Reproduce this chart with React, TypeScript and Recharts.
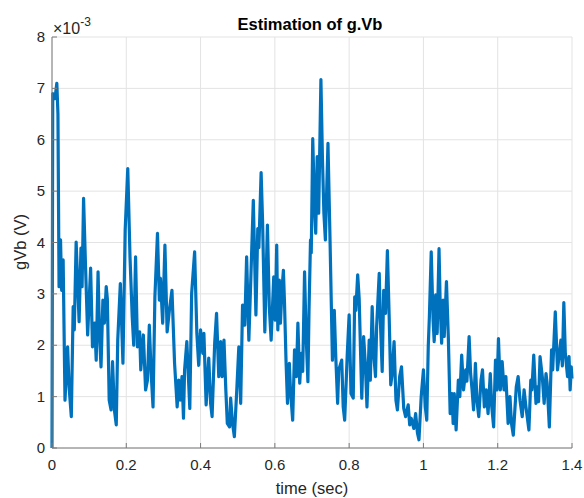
import React from "react";
import { CartesianGrid, Line, LineChart, XAxis, YAxis } from "recharts";

// time axis (sec) and estimated g.Vb, in units of 1e-3 V
const timeSec = [
  0, 0.002, 0.008, 0.013, 0.016, 0.019, 0.023, 0.026, 0.03, 0.035, 0.042, 0.046, 0.052, 0.057, 0.06, 0.065,
  0.073, 0.078, 0.081, 0.085, 0.09, 0.096, 0.104, 0.109, 0.115, 0.119, 0.124, 0.128, 0.132, 0.137, 0.141,
  0.146, 0.149, 0.154, 0.159, 0.163, 0.168, 0.173, 0.177, 0.184, 0.191, 0.197, 0.204, 0.21, 0.216, 0.22,
  0.225, 0.23, 0.236, 0.239, 0.246, 0.252, 0.257, 0.262, 0.267, 0.272, 0.277, 0.284, 0.289, 0.292, 0.298,
  0.304, 0.31, 0.316, 0.323, 0.33, 0.337, 0.341, 0.345, 0.35, 0.354, 0.357, 0.363, 0.371, 0.376, 0.384,
  0.39, 0.395, 0.4, 0.406, 0.409, 0.415, 0.422, 0.427, 0.431, 0.438, 0.443, 0.449, 0.454, 0.458, 0.463,
  0.468, 0.472, 0.478, 0.481, 0.486, 0.491, 0.497, 0.503, 0.508, 0.513, 0.519, 0.524, 0.53, 0.536, 0.542,
  0.549, 0.554, 0.557, 0.563, 0.567, 0.573, 0.58, 0.585, 0.59, 0.597, 0.601, 0.605, 0.608, 0.612, 0.615,
  0.619, 0.623, 0.626, 0.63, 0.634, 0.639, 0.642, 0.648, 0.653, 0.658, 0.662, 0.667, 0.671, 0.675, 0.68,
  0.684, 0.689, 0.692, 0.696, 0.698, 0.702, 0.707, 0.71, 0.714, 0.718, 0.724, 0.728, 0.732, 0.736, 0.743,
  0.748, 0.755, 0.76, 0.764, 0.769, 0.772, 0.78, 0.784, 0.788, 0.795, 0.8, 0.805, 0.811, 0.815, 0.818,
  0.823, 0.827, 0.834, 0.839, 0.844, 0.848, 0.854, 0.857, 0.862, 0.866, 0.871, 0.874, 0.881, 0.884, 0.889,
  0.893, 0.898, 0.903, 0.908, 0.912, 0.915, 0.921, 0.926, 0.93, 0.936, 0.941, 0.947, 0.952, 0.959, 0.963,
  0.967, 0.974, 0.979, 0.984, 0.988, 0.994, 1.0, 1.005, 1.009, 1.013, 1.016, 1.021, 1.026, 1.029, 1.033,
  1.037, 1.042, 1.045, 1.049, 1.053, 1.056, 1.062, 1.067, 1.072, 1.077, 1.08, 1.083, 1.088, 1.094, 1.098,
  1.103, 1.108, 1.114, 1.117, 1.123, 1.127, 1.131, 1.135, 1.14, 1.144, 1.149, 1.155, 1.159, 1.164, 1.169,
  1.174, 1.18, 1.184, 1.189, 1.194, 1.198, 1.202, 1.207, 1.212, 1.217, 1.222, 1.228, 1.233, 1.237, 1.242,
  1.25, 1.255, 1.26, 1.266, 1.271, 1.276, 1.284, 1.289, 1.292, 1.297, 1.303, 1.307, 1.31, 1.314, 1.32,
  1.325, 1.33, 1.333, 1.339, 1.345, 1.348, 1.355, 1.361, 1.366, 1.37, 1.374, 1.378, 1.382, 1.388, 1.392,
  1.395, 1.398, 1.4,
];

const gVbE3 = [
  0, 6.9, 6.8, 7.1, 6.5, 3.14, 4.05, 3.07, 3.66, 0.93, 1.97, 1.19, 0.61, 2.75, 2.3, 4.01,
  2.46, 3.89, 3.14, 4.86, 3.6, 2.2, 3.5, 1.97, 2.43, 1.71, 3.43, 2.17, 1.58, 2.88, 2.43,
  3.14, 2.9, 0.93, 0.74, 1.68, 0.74, 0.45, 2.1, 3.2, 1.65, 4.24, 5.44, 3.72, 2.55, 2.0,
  3.72, 1.97, 2.26, 1.52, 2.2, 1.13, 1.32, 2.39, 1.45, 0.8, 2.94, 4.18, 2.88, 3.3, 2.43,
  3.95, 2.26, 2.68, 3.07, 1.65, 0.8, 1.32, 0.93, 1.39, 0.58, 1.52, 2.07, 0.77, 3.01, 3.82,
  2.23, 1.61, 2.3, 1.84, 2.23, 0.84, 1.75, 0.87, 0.61, 2.04, 2.62, 1.39, 2.07, 1.39, 2.1,
  1.13, 0.48, 0.41, 0.97, 0.48, 0.22, 1.06, 1.97, 0.87, 2.78, 2.39, 3.72, 2.1, 3.46, 4.82,
  2.59, 4.27, 3.9, 5.36, 4.4, 2.26, 4.34, 2.75, 2.1, 3.33, 2.49, 3.95, 2.3, 3.27, 2.43,
  3.07, 3.46, 2.82, 1.71, 0.87, 1.65, 1.13, 0.54, 1.91, 1.39, 2.43, 1.26, 1.84, 1.49, 3.43,
  2.23, 1.29, 2.68, 4.05, 3.8, 6.02, 4.63, 4.18, 5.67, 4.57, 7.17, 5.67, 4.57, 4.05, 5.93,
  4.24, 1.71, 2.68, 1.78, 0.87, 1.52, 1.71, 0.8, 0.54, 1.84, 2.59, 1.06, 0.97, 2.94, 2.68,
  3.37, 2.91, 0.97, 2.17, 1.58, 0.8, 2.1, 1.32, 2.75, 1.84, 1.39, 2.36, 3.4, 2.49, 1.49,
  3.07, 2.62, 3.84, 2.49, 1.23, 1.39, 2.07, 0.93, 0.74, 1.39, 1.58, 0.77, 0.61, 0.84, 0.45,
  0.58, 0.38, 0.67, 0.29, 0.16, 1.0, 1.52, 0.8, 0.54, 1.97, 2.55, 3.82, 2.49, 2.07, 2.98,
  2.23, 3.88, 2.82, 2.04, 2.88, 2.17, 3.24, 2.17, 0.67, 1.06, 0.48, 1.06, 0.35, 1.32, 1.0,
  1.81, 1.13, 1.52, 1.3, 2.17, 1.45, 1.13, 0.74, 1.65, 0.93, 0.61, 1.32, 1.52, 0.8, 1.13,
  0.67, 1.45, 0.8, 0.41, 1.71, 1.13, 2.13, 1.13, 1.68, 1.13, 1.39, 0.48, 1.0, 0.48, 0.25,
  1.19, 1.39, 0.93, 0.61, 1.13, 0.8, 0.35, 1.32, 1.13, 1.81, 0.87, 1.19, 0.9, 1.78, 1.39,
  0.87, 1.45, 1.26, 0.41, 1.91, 1.52, 2.65, 1.52, 1.84, 2.1, 1.6, 2.83, 1.84, 1.39, 1.78,
  1.13, 1.58, 1.35,
];

const xTicks = [0, 0.2, 0.4, 0.6, 0.8, 1, 1.2, 1.4];
const yTicks = [0, 1, 2, 3, 4, 5, 6, 7, 8];

const FONT = '"Liberation Sans", Arial, Helvetica, sans-serif';
const TEXT = "#262626";
const AXIS = "#7a7a7a";

const rows = timeSec.map((t, i) => ({ t, v: gVbE3[i] }));

function BottomTick({ x, y, payload }: any) {
  return (
    <g>
      <line x1={x} x2={x} y1={y} y2={y - 5} stroke={AXIS} />
      <text x={x} y={y + 22} textAnchor="middle" fontSize={15} fill={TEXT} fontFamily={FONT}>
        {String(payload.value)}
      </text>
    </g>
  );
}

function TopTick({ x, y }: any) {
  return <line x1={x} x2={x} y1={y} y2={y + 5} stroke={AXIS} />;
}

function LeftTick({ x, y, payload }: any) {
  return (
    <g>
      <line x1={x} x2={x + 5} y1={y} y2={y} stroke={AXIS} />
      <text x={x - 7} y={y + 5} textAnchor="end" fontSize={15} fill={TEXT} fontFamily={FONT}>
        {String(payload.value)}
      </text>
    </g>
  );
}

function RightTick({ x, y }: any) {
  return <line x1={x} x2={x - 5} y1={y} y2={y} stroke={AXIS} />;
}

export default function App() {
  return (
    <div style={{ position: "absolute", left: 0, top: 0, width: 584, height: 498, background: "#fff" }}>
      <LineChart width={584} height={498} data={rows} margin={{ top: 37, right: 12, bottom: 0, left: 0 }}>
        <CartesianGrid xAxisId="b" yAxisId="l" stroke="#e3e3e3" />
        <XAxis
          xAxisId="b"
          dataKey="t"
          type="number"
          domain={[0, 1.4]}
          ticks={xTicks}
          interval={0}
          height={50}
          tickSize={0}
          tickMargin={0}
          tickLine={false}
          tick={<BottomTick />}
          axisLine={{ stroke: AXIS }}
        />
        <XAxis
          xAxisId="t"
          orientation="top"
          type="number"
          domain={[0, 1.4]}
          ticks={xTicks}
          interval={0}
          height={0}
          tickSize={0}
          tickMargin={0}
          tickLine={false}
          tick={<TopTick />}
          axisLine={{ stroke: AXIS }}
        />
        <YAxis
          yAxisId="l"
          type="number"
          domain={[0, 8]}
          ticks={yTicks}
          interval={0}
          width={52}
          tickSize={0}
          tickMargin={0}
          tickLine={false}
          tick={<LeftTick />}
          axisLine={{ stroke: AXIS }}
        />
        <YAxis
          yAxisId="r"
          orientation="right"
          type="number"
          domain={[0, 8]}
          ticks={yTicks}
          interval={0}
          width={0}
          tickSize={0}
          tickMargin={0}
          tickLine={false}
          tick={<RightTick />}
          axisLine={{ stroke: AXIS }}
        />
        <Line
          xAxisId="b"
          yAxisId="l"
          dataKey="v"
          type="linear"
          stroke="#0072BD"
          strokeWidth={3.2}
          strokeLinejoin="round"
          dot={false}
          isAnimationActive={false}
        />
      </LineChart>
      <svg
        width={584}
        height={498}
        style={{ position: "absolute", left: 0, top: 0, pointerEvents: "none" }}
        fontFamily={FONT}
      >
        <text x={310} y={30} textAnchor="middle" fontSize={16.5} fontWeight="bold" fill="#000">
          Estimation of g.Vb
        </text>
        <text x={53} y={34} fontSize={16} fill={TEXT}>
          ×10
          <tspan fontSize={12} dy={-8}>-3</tspan>
        </text>
        <text x={312} y={494} textAnchor="middle" fontSize={16.5} fill={TEXT}>
          time (sec)
        </text>
        <text x={26} y={242} textAnchor="middle" fontSize={16.5} fill={TEXT} transform="rotate(-90, 26, 242)">
          gVb (V)
        </text>
      </svg>
    </div>
  );
}
